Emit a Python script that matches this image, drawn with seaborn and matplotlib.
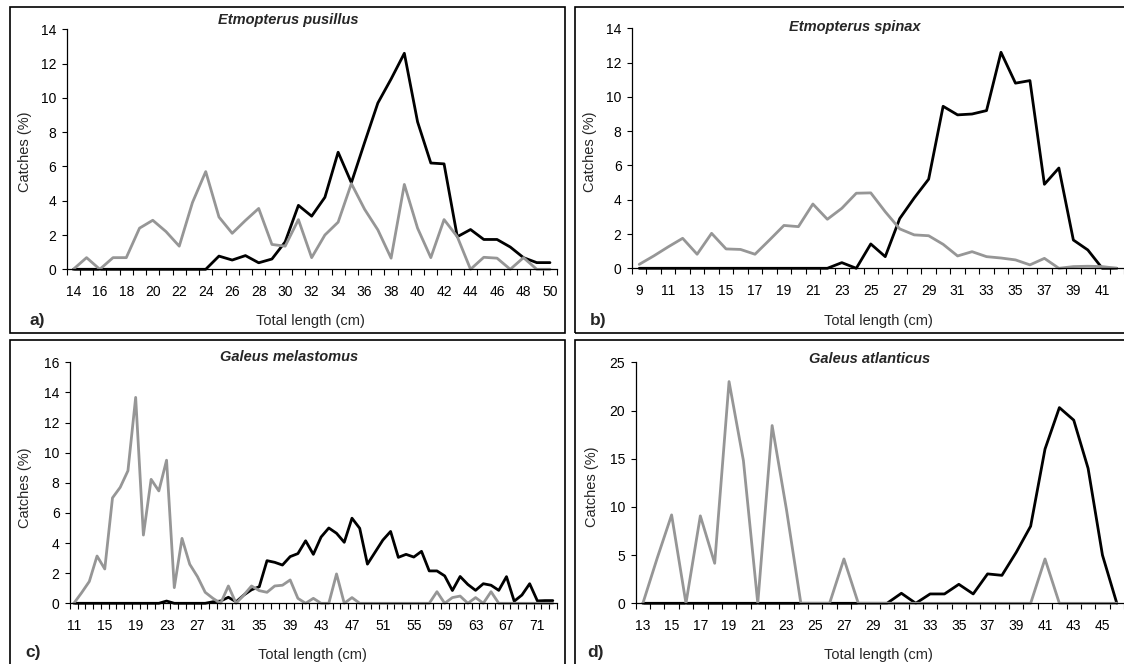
import numpy as np
import pandas as pd
import matplotlib
matplotlib.use("Agg")
import matplotlib.pyplot as plt
import seaborn as sns
from matplotlib.patches import Rectangle

# ---------------- data ----------------
a_len = list(range(14, 51))
a_black = [0, 0, 0, 0, 0, 0, 0, 0, 0, 0, 0,
           0.77, 0.54, 0.8, 0.38, 0.6, 1.6, 3.73, 3.1, 4.2, 6.83, 5.05, 7.4, 9.7, 11.1,
           12.6, 8.6, 6.2, 6.15, 1.9, 2.32, 1.74, 1.74, 1.3, 0.68, 0.39, 0.39]
a_gray = [0, 0.68, 0, 0.68, 0.68, 2.4, 2.86, 2.2, 1.35, 3.9, 5.7, 3.05, 2.1, 2.85,
          3.55, 1.45, 1.35, 2.9, 0.68, 2.0, 2.75, 5.0, 3.5, 2.3, 0.65, 4.95, 2.4, 0.68,
          2.9, 1.9, 0, 0.7, 0.65, 0, 0.68, 0, 0]

b_len = list(range(9, 43))
b_black = [0] * 14 + [0.33, 0, 1.42, 0.68, 2.9, 4.1, 5.2, 9.45, 8.95, 9.0, 9.2, 12.6,
                      10.8, 10.95, 4.9, 5.85, 1.65, 1.07, 0.0, 0.0]
b_gray = [0.23, 0.72, 1.25, 1.75, 0.82, 2.04, 1.13, 1.1, 0.82, 1.65, 2.5, 2.43, 3.75,
          2.86, 3.5, 4.38, 4.4, 3.3, 2.3, 1.95, 1.9, 1.4, 0.72, 0.97, 0.68, 0.6, 0.49,
          0.2, 0.58, 0, 0.1, 0.12, 0.1, 0.0]

c_len = list(range(11, 74))
c_black = [0] * 12 + [0.15] + [0] * 5 + [0.1, 0.15, 0.4, 0.1, 0.55, 0.9, 1.1, 2.83,
           2.72, 2.54, 3.1, 3.3, 4.15, 3.25, 4.4, 5.0, 4.65, 4.05, 5.65, 4.98, 2.6,
           3.4, 4.2, 4.77, 3.05, 3.25, 3.07, 3.45, 2.15, 2.15, 1.82, 0.85, 1.78, 1.25,
           0.86, 1.3, 1.2, 0.86, 1.77, 0.14, 0.55, 1.3, 0.16, 0.18, 0.18]
c_gray = [0, 0.7, 1.45, 3.14, 2.28, 7.0, 7.7, 8.8, 13.67, 4.53, 8.23, 7.46, 9.5, 1.04,
          4.31, 2.59, 1.77, 0.73, 0.33, 0, 1.15, 0, 0.55, 1.15, 0.84, 0.73, 1.15, 1.2,
          1.55, 0.33, 0, 0.33, 0, 0, 1.95, 0, 0.38, 0] + [0] * 9 + \
         [0.77, 0, 0.38, 0.48, 0, 0.38, 0, 0.77, 0] + [0] * 7

d_len = list(range(13, 47))
d_black = [0] * 18 + [1.04, 0, 0.97, 0.97, 1.97, 0.97, 3.05, 2.9, 5.3, 8.0, 16.0,
                      20.3, 19.0, 14.0, 5.0, 0]
d_gray = [0, 4.7, 9.17, 0, 9.07, 4.15, 23.0, 14.8, 0, 18.44, 9.7, 0, 0, 0, 4.6, 0] + \
         [0] * 12 + [4.6, 0, 0, 0, 0, 0]

titles = ["Etmopterus pusillus", "Etmopterus spinax",
          "Galeus melastomus", "Galeus atlanticus"]
letters = ["a)", "b)", "c)", "d)"]
ymaxes = [14, 14, 16, 25]
ysteps = [2, 2, 2, 5]
label_steps = [2, 2, 4, 2]
xlabel_text = "Total length (cm)"
ylabel_text = "Catches (%)"

# ---------------- style ----------------
sns.set_theme(style="white")
plt.rcParams["font.family"] = ["Liberation Sans", "DejaVu Sans"]

W, H = 1124, 664
fig = plt.figure(figsize=(W / 100, H / 100), dpi=100)


def fx(x):
    return x / W


def fy(y):
    return 1 - y / H


# frames (panel borders) in pixel coordinates: x0, y0, x1, y1
frames = [(10, 7, 565, 333), (575, 7, 1140, 333), (10, 340, 565, 680), (575, 340, 1140, 680)]
for (x0, y0, x1, y1) in frames:
    fig.add_artist(Rectangle((fx(x0), fy(y1)), fx(x1 - x0), (y1 - y0) / H,
                             transform=fig.transFigure, fill=False,
                             edgecolor="black", linewidth=1.2, clip_on=False))

# axes boxes in pixels: left, top, right, bottom
boxes = [(66.7, 29.3, 556.6, 269.3), (632, 28.3, 1124, 268.3),
         (70, 362.3, 556.7, 603.3), (635.7, 362.3, 1124, 603.3)]

datasets = [(a_len, a_black, a_gray), (b_len, b_black, b_gray),
            (c_len, c_black, c_gray), (d_len, d_black, d_gray)]

title_pos = [(288, 20), (855, 27), (289, 357), (870, 359)]
ylab_pos = [(25, 152), (590, 152), (25, 488), (592, 487)]
xlab_pos = [(310, 321), (878, 321), (312, 655), (878, 655)]
letter_pos = [(37, 321), (598, 321), (33, 652), (595, 652)]

BLACK = "#000000"
GRAY = "#969696"

for i, (box, (xs, yb, yg)) in enumerate(zip(boxes, datasets)):
    l, t, r, b = box
    ax = fig.add_axes([fx(l), fy(b), (r - l) / W, (b - t) / H])
    df = pd.DataFrame({"len": xs, "black": yb, "gray": yg})
    sns.lineplot(data=df, x="len", y="black", ax=ax, color=BLACK, linewidth=2.0)
    sns.lineplot(data=df, x="len", y="gray", ax=ax, color=GRAY, linewidth=2.0)
    for ln in ax.lines:
        ln.set_clip_on(False)
        ln.set_solid_joinstyle("round")
        ln.set_solid_capstyle("round")

    xmin, xmax = xs[0] - 0.5, xs[-1] + 0.5
    ax.set_xlim(xmin, xmax)
    ax.set_ylim(0, ymaxes[i])
    ax.set_yticks(np.arange(0, ymaxes[i] + 0.01, ysteps[i]))
    ax.set_yticklabels([f"{int(v)}" for v in np.arange(0, ymaxes[i] + 0.01, ysteps[i])])

    # category boundary tick marks (major) and category labels (minor)
    ax.set_xticks(np.arange(xmin, xmax + 0.01, 1.0))
    ax.set_xticklabels([])
    lab = xs[::label_steps[i]]
    ax.set_xticks(lab, minor=True)
    ax.set_xticklabels([str(v) for v in lab], minor=True)

    ax.tick_params(axis="x", which="major", direction="out", length=4.5, width=0.8,
                   color="black", bottom=True)
    ax.tick_params(axis="x", which="minor", length=0, pad=11.5, labelsize=10,
                   labelcolor="black", bottom=True)
    ax.tick_params(axis="y", which="major", direction="out", length=3.5, width=0.8,
                   color="black", left=True, labelsize=10, labelcolor="black", pad=4)

    for side in ["top", "right"]:
        ax.spines[side].set_visible(False)
    for side in ["left", "bottom"]:
        ax.spines[side].set_color("black")
        ax.spines[side].set_linewidth(0.9)
    ax.set_xlabel("")
    ax.set_ylabel("")
    ax.set_facecolor("none")
    ax.grid(False)

    fig.text(fx(title_pos[i][0]), fy(title_pos[i][1]), titles[i], ha="center",
             va="center", fontsize=10.5, fontweight="bold", fontstyle="italic")
    fig.text(fx(ylab_pos[i][0]), fy(ylab_pos[i][1]), ylabel_text, ha="center",
             va="center", rotation=90, fontsize=10.5)
    fig.text(fx(xlab_pos[i][0]), fy(xlab_pos[i][1]), xlabel_text, ha="center",
             va="center", fontsize=10.5)
    fig.text(fx(letter_pos[i][0]), fy(letter_pos[i][1]), letters[i], ha="center",
             va="center", fontsize=12.5, fontweight="bold")

fig.savefig("out.png", dpi=100, facecolor="white")
